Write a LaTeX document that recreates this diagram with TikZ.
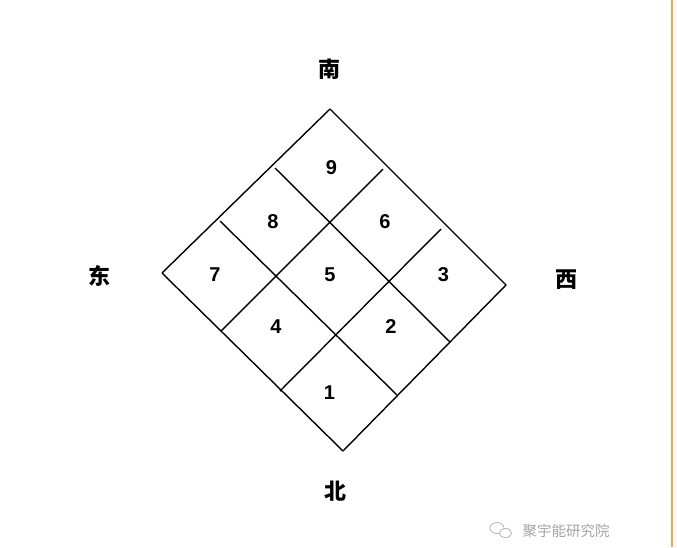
\documentclass[tikz,border=0pt]{standalone}
\usepackage{fontspec}
\setmainfont{Liberation Sans}
\newfontfamily\cjk{Noto Sans CJK SC}
\usepackage{xcolor}
\usetikzlibrary{shapes.geometric}

\definecolor{edgeorange}{RGB}{232,166,100}
\definecolor{edgetint}{RGB}{250,246,242}
\definecolor{markgray}{RGB}{165,165,165}

\tikzset{
    gridline/.style={line width=1.4pt, black},
    cellnum/.style={font=\fontsize{20}{20}\selectfont\bfseries},
    dirlabel/.style={font=\cjk\fontsize{22}{22}\selectfont\bfseries},
    marktext/.style={font=\cjk\fontsize{14.5}{14.5}\selectfont, text=markgray}
}

\begin{document}
\begin{tikzpicture}[x=1pt, y=-1pt]
        \fill[white] (0, 0) rectangle (677, 547);
        \useasboundingbox (0, 0) rectangle (677, 547);
        \fill[edgetint] (672, 0) rectangle (677, 547);
        \draw[edgeorange, line width=1.5pt] (672, 0) -- (672, 547);

        \coordinate (T) at (330, 109);
        \coordinate (L) at (162, 273);
        \coordinate (R) at (506, 285);
        \coordinate (B) at (343, 451);
        \coordinate (tl1) at (275, 168);
        \coordinate (tl2) at (220, 221);
        \coordinate (tr1) at (383, 169);
        \coordinate (tr2) at (441, 229);
        \coordinate (lb1) at (221, 331);
        \coordinate (lb2) at (280, 391);
        \coordinate (rb1) at (450, 342);
        \coordinate (rb2) at (397, 395);

        \draw[gridline] (T) -- (L);
        \draw[gridline] (T) -- (R);
        \draw[gridline] (L) -- (B);
        \draw[gridline] (R) -- (B);
        \draw[gridline] (tl1) -- (rb1);
        \draw[gridline] (tl2) -- (rb2);
        \draw[gridline] (tr1) -- (lb1);
        \draw[gridline] (tr2) -- (lb2);

        \node[cellnum] (n9) at (331.5, 168) {9};
        \node[cellnum] (n8) at (273, 221.5) {8};
        \node[cellnum] (n6) at (385, 221.5) {6};
        \node[cellnum] (n7) at (215, 275) {7};
        \node[cellnum] (n5) at (330, 275) {5};
        \node[cellnum] (n3) at (443.5, 275) {3};
        \node[cellnum] (n4) at (276, 326.5) {4};
        \node[cellnum] (n2) at (391, 326.5) {2};
        \node[cellnum] (n1) at (329.5, 392.5) {1};

        \node[dirlabel] (south) at (329.5, 69.5) {南};
        \node[dirlabel] (north) at (335.5, 491) {北};
        \node[dirlabel] (east) at (99, 275.5) {东};
        \node[dirlabel] (west) at (566.5, 280) {西};

        \draw[markgray, line width=0.6pt] (497, 528) ellipse (7 and 5.5);
        \draw[markgray, line width=0.6pt, fill=white] (505.5, 533) ellipse (6 and 4.5);
        \node[marktext, anchor=west] (mark) at (519, 531) {聚宇能研究院};
\end{tikzpicture}
\end{document}
